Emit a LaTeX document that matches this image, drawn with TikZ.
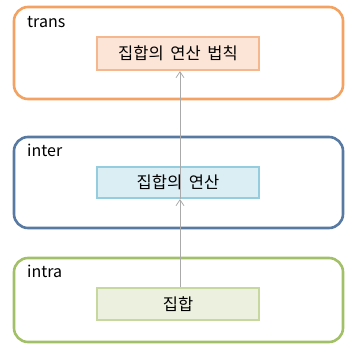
\documentclass[tikz,border=0pt]{standalone}
\usepackage{fontspec}
\setmainfont[WordSpace=1.8]{Noto Sans CJK KR}
\usetikzlibrary{arrows.meta,positioning}
\definecolor{transline}{RGB}{243,162,98}
\definecolor{transfill}{RGB}{252,229,214}
\definecolor{transedge}{RGB}{245,184,142}
\definecolor{interline}{RGB}{88,122,162}
\definecolor{interfill}{RGB}{219,238,244}
\definecolor{interedge}{RGB}{150,205,222}
\definecolor{intraline}{RGB}{162,192,104}
\definecolor{intrafill}{RGB}{235,241,222}
\definecolor{intraedge}{RGB}{198,216,158}
\definecolor{arrowgray}{RGB}{170,170,170}

\begin{document}
\begin{tikzpicture}[x=1pt, y=-1pt,
    layer/.style={draw, line width=2.6pt, rounded corners=14pt, minimum width=329pt},
    concept/.style={draw, line width=2pt, minimum width=162pt, font=\fontsize{16.5}{20}\selectfont},
    tag/.style={anchor=base west, inner sep=0pt, font=\fontsize{16}{19}\selectfont},
    up/.style={draw=arrowgray, line width=0.8pt, -{Straight Barb[length=6pt, width=8pt]}}]
    \useasboundingbox (0,0) rectangle (345,349);
    % the three layers
    \node[layer, draw=transline, minimum height=92pt] (trans) at (178.5,53) {};
    \node[layer, draw=interline, minimum height=91pt] (inter) at (178.5,182.5) {};
    \node[layer, draw=intraline, minimum height=84pt] (intra) at (178.5,300) {};
    \node[tag] (translabel) at (27,27) {trans};
    \node[tag] (interlabel) at (27,156) {inter};
    \node[tag] (intralabel) at (27,277) {intra};
    % concepts inside
    \node[concept, draw=transedge, fill=transfill, minimum height=33pt] (law) at (178,53.5) {집합의 연산 법칙};
    \node[concept, draw=interedge, fill=interfill, minimum height=31pt] (oper) at (178,182.5) {집합의 연산};
    \node[concept, draw=intraedge, fill=intrafill, minimum height=32pt] (set) at (178,304) {집합};
    % arrows going up
    \draw[up] ([xshift=2pt]set.north) -- ([xshift=2pt]oper.south);
    \draw[up] ([xshift=2pt]oper.south) -- ([xshift=2pt]law.south);
\end{tikzpicture}
\end{document}
